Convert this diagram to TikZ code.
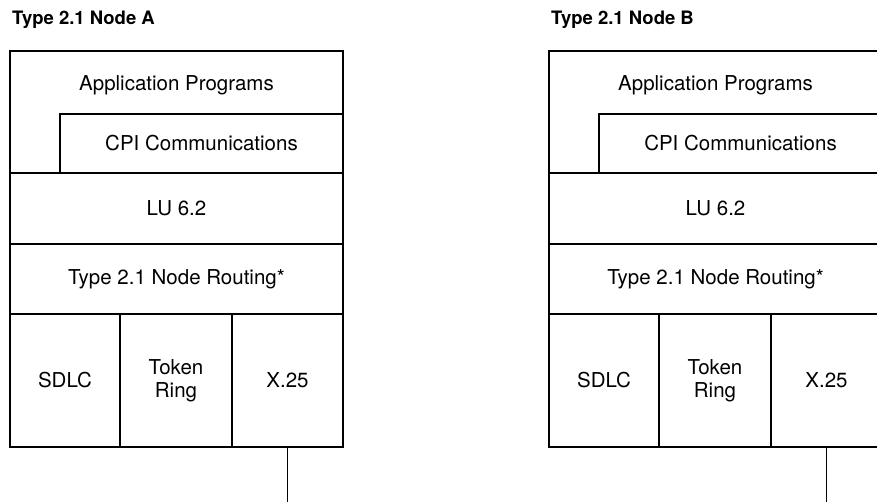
\documentclass[tikz,border=0pt]{standalone}
\usepackage{fontspec}
\setmainfont{TeX Gyre Heros}
\usetikzlibrary{positioning}
\tikzstyle{layer}=[draw, line width=1.6pt, anchor=north west, inner sep=0pt, outer sep=0pt, align=center, font=\fontsize{20.5}{22}\selectfont]
\tikzstyle{title}=[anchor=west, inner sep=0pt, font=\fontsize{18.5}{20}\selectfont\bfseries]

\begin{document}
\begin{tikzpicture}[x=1pt, y=-1pt]
    \useasboundingbox (0,0) rectangle (877,502);
    \clip (0,0) rectangle (877,502);

      \foreach \L/\n in {10/A,549/B}{
        \node[title] (title\n) at (\L+2,20) {Type 2.1 Node \n};
        \node[layer, minimum width=333pt, minimum height=122pt,
              label={[anchor=center, yshift=-34pt, font=\fontsize{20.5}{22}\selectfont]north:Application Programs}]
              (app\n) at (\L,51) {};
        \node[layer, minimum width=283pt, minimum height=59pt] (cpi\n) at (\L+50,114) {CPI Communications};
        \node[layer, minimum width=333pt, minimum height=71pt] (lu\n) at (app\n.south west) {LU 6.2};
        \node[layer, minimum width=333pt, minimum height=70pt] (route\n) at (lu\n.south west) {Type 2.1 Node Routing*};
        \node[layer, minimum width=110pt, minimum height=133pt] (sdlc\n) at (route\n.south west) {SDLC};
        \node[layer, minimum width=112pt, minimum height=133pt] (token\n) at (sdlc\n.north east) {Token\\[1pt]Ring};
        \node[layer, minimum width=111pt, minimum height=133pt] (xtf\n) at (token\n.north east) {X.25};
        \coordinate (link\n) at (xtf\n.south |- 0,502);
        \draw[line width=1.6pt] (xtf\n.south) -- (link\n);
        }

    \end{tikzpicture}
\end{document}
